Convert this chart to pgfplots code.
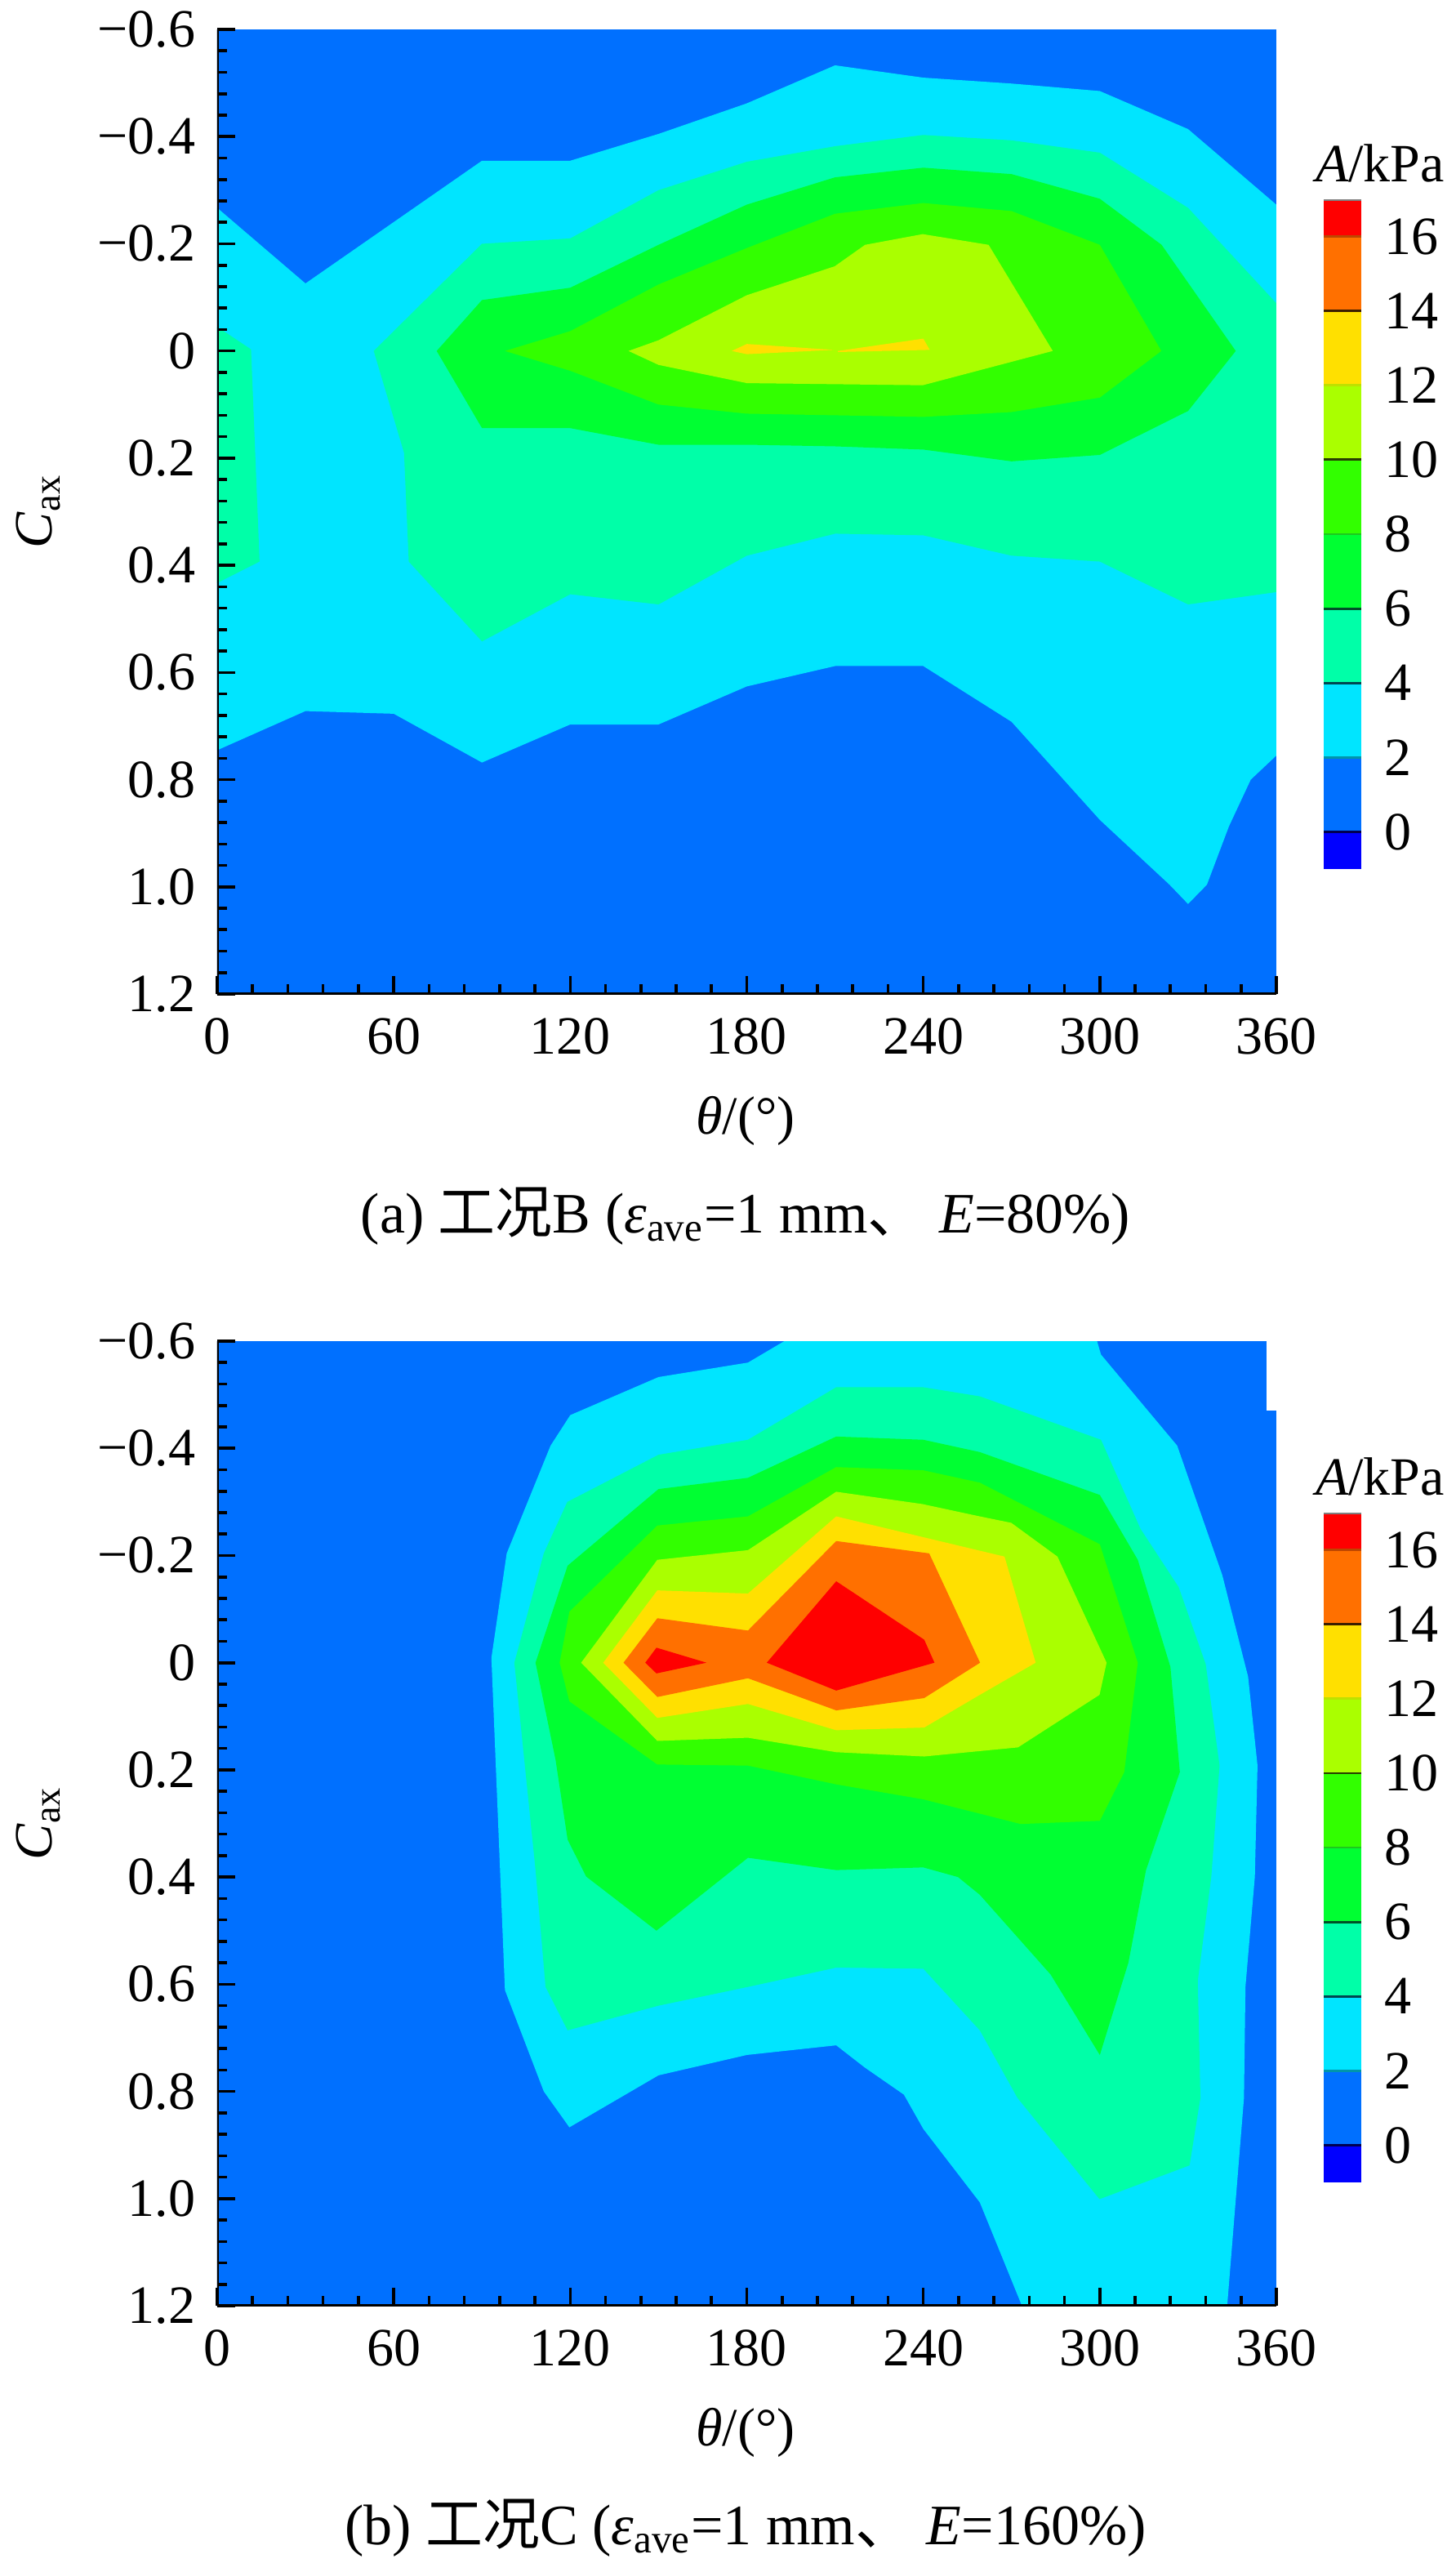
\documentclass[border=0pt]{standalone}
\usepackage{fontspec}
\setmainfont{Liberation Serif}
\newfontfamily\cjk{Noto Sans CJK SC}
\usepackage{pgfplots}
\pgfplotsset{compat=1.18}
\definecolor{cDB}{RGB}{0,0,255}
\definecolor{cB}{RGB}{0,112,255}
\definecolor{cC}{RGB}{0,229,255}
\definecolor{cAq}{RGB}{0,255,168}
\definecolor{cG1}{RGB}{0,255,50}
\definecolor{cG2}{RGB}{50,255,0}
\definecolor{cYG}{RGB}{170,255,0}
\definecolor{cY}{RGB}{255,224,0}
\definecolor{cO}{RGB}{255,112,0}
\definecolor{cR}{RGB}{255,0,0}
\definecolor{l16}{RGB}{190,70,0}
\definecolor{l14}{RGB}{60,30,0}
\definecolor{l12}{RGB}{190,225,0}
\definecolor{l10}{RGB}{40,60,0}
\definecolor{l8}{RGB}{30,200,30}
\definecolor{l6}{RGB}{0,80,40}
\definecolor{l4}{RGB}{0,70,80}
\definecolor{l2}{RGB}{0,150,170}
\definecolor{l0}{RGB}{0,0,80}
\newcommand\fs{\fontsize{16.5}{20}\selectfont}
\newcommand\fcap{\fontsize{17.5}{21}\selectfont}
\pgfplotsset{
  mainax/.style={
    anchor=north west, scale only axis, width=324.25pt, height=295.25pt,
    xmin=0, xmax=360, ymin=-0.6, ymax=1.2, y dir=reverse,
    xtick={0,60,120,180,240,300,360},
    xticklabels={0,60,120,180,240,300,360},
    ytick={-0.6,-0.4,-0.2,0,0.2,0.4,0.6,0.8,1.0,1.2},
    yticklabels={−0.6,−0.4,−0.2,0,0.2,0.4,0.6,0.8,1.0,1.2},
    minor x tick num=4, minor y tick num=4,
    tick align=inside, tick pos=left,
    major tick length=5.5pt, minor tick length=3pt,
    every tick/.style={black, line width=0.9pt},
    axis line style={draw=none},
    axis on top,
    xticklabel style={anchor=base, yshift=-18.25pt, inner sep=0pt, font=\fs},
    yticklabel style={anchor=east, xshift=-6.5pt, inner sep=0pt, font=\fs},
  },
  cbax/.style={
    anchor=north west, scale only axis, width=11.5pt, height=205pt,
    xmin=0, xmax=1, ymin=-1, ymax=17,
    axis line style={draw=none}, xtick=\empty,
    ytick={0,2,4,6,8,10,12,14,16},
    yticklabels={0,2,4,6,8,10,12,14,16},
    yticklabel pos=right, major tick length=0pt,
    yticklabel style={anchor=west, xshift=7pt, inner sep=0pt, font=\fs},
  },
  cbfill/.style={draw=none},
}
\newcommand\colorbarplots{%
  \addplot[cbfill,fill=cDB] coordinates {(0,-1)(1,-1)(1,0)(0,0)};
  \addplot[cbfill,fill=cB] coordinates {(0,0)(1,0)(1,2)(0,2)};
  \addplot[cbfill,fill=cC] coordinates {(0,2)(1,2)(1,4)(0,4)};
  \addplot[cbfill,fill=cAq] coordinates {(0,4)(1,4)(1,6)(0,6)};
  \addplot[cbfill,fill=cG1] coordinates {(0,6)(1,6)(1,8)(0,8)};
  \addplot[cbfill,fill=cG2] coordinates {(0,8)(1,8)(1,10)(0,10)};
  \addplot[cbfill,fill=cYG] coordinates {(0,10)(1,10)(1,12)(0,12)};
  \addplot[cbfill,fill=cY] coordinates {(0,12)(1,12)(1,14)(0,14)};
  \addplot[cbfill,fill=cO] coordinates {(0,14)(1,14)(1,16)(0,16)};
  \addplot[cbfill,fill=cR] coordinates {(0,16)(1,16)(1,17)(0,17)};
  \addplot[l0,line width=0.7pt] coordinates {(0,0)(1,0)};
  \addplot[l2,line width=0.7pt] coordinates {(0,2)(1,2)};
  \addplot[l4,line width=0.7pt] coordinates {(0,4)(1,4)};
  \addplot[l6,line width=0.7pt] coordinates {(0,6)(1,6)};
  \addplot[l8,line width=0.7pt] coordinates {(0,8)(1,8)};
  \addplot[l10,line width=0.7pt] coordinates {(0,10)(1,10)};
  \addplot[l12,line width=0.7pt] coordinates {(0,12)(1,12)};
  \addplot[l14,line width=0.7pt] coordinates {(0,14)(1,14)};
  \addplot[l16,line width=0.7pt] coordinates {(0,16)(1,16)};
  \addplot[gray,line width=0.9pt] coordinates {(0,17)(1,17)};
}
\begin{document}
\begin{tikzpicture}
\begin{scope}[x=0.25pt,y=-0.25pt]
\path[use as bounding box] (0,0) rectangle (1772,3149);
\end{scope}
% ---------------- (a) case B ----------------
\begin{axis}[mainax, at={(66.5pt,-9pt)}]
\addplot[draw=none,fill=cB] coordinates {(-5,-0.7)(365,-0.7)(365,1.3)(-5,1.3)};
\addplot[draw=none,fill=cC] coordinates {(-5,-0.267)(0,-0.267)(30,-0.126)(90,-0.355)(120,-0.355)(150,-0.405)(180,-0.462)(210,-0.533)(240,-0.51)(270,-0.499)(300,-0.485)(330,-0.414)(360,-0.273)(365,-0.273)(365,0.755)(360,0.755)(351.3,0.80)(343.9,0.887)(336.4,0.996)(330,1.032)(323.7,0.996)(300,0.875)(270,0.692)(240,0.588)(210,0.588)(180,0.626)(150,0.697)(120,0.697)(90,0.768)(60,0.677)(30,0.672)(0,0.745)(-5,0.745)};
\addplot[draw=none,fill=cAq] coordinates {(-5,-0.045)(0,-0.045)(11.5,-0.003)(14.4,0.393)(0,0.433)(-5,0.433)};
\addplot[draw=none,fill=cAq] coordinates {(53.2,0)(90,-0.2)(120,-0.21)(150,-0.30)(180,-0.353)(210,-0.382)(240,-0.403)(270,-0.393)(300,-0.37)(330,-0.267)(360,-0.089)(365,-0.089)(365,0.45)(360,0.45)(330,0.473)(300,0.393)(270,0.382)(240,0.344)(210,0.341)(180,0.382)(150,0.473)(120,0.454)(90,0.542)(65.1,0.393)(63.5,0.19)};
\addplot[draw=none,fill=cG1] coordinates {(74.6,0)(90,-0.095)(120,-0.118)(150,-0.198)(180,-0.273)(210,-0.324)(240,-0.342)(270,-0.33)(300,-0.284)(321,-0.198)(346.2,0)(330,0.112)(300,0.194)(270,0.206)(240,0.184)(210,0.178)(180,0.175)(150,0.175)(120,0.144)(90,0.144)};
\addplot[draw=none,fill=cG2] coordinates {(97.8,0)(120,-0.037)(150,-0.124)(180,-0.192)(210,-0.256)(240,-0.276)(270,-0.261)(300,-0.198)(320.9,0)(300,0.087)(270,0.114)(240,0.123)(210,0.12)(180,0.117)(150,0.10)(120,0.037)};
\addplot[draw=none,fill=cYG] coordinates {(139.8,0)(150,-0.02)(180,-0.104)(209.9,-0.158)(220.2,-0.198)(239.8,-0.218)(262.2,-0.198)(284,0)(239.8,0.064)(180,0.06)(150,0.026)};
\addplot[draw=none,fill=cY] coordinates {(174.9,0)(180,-0.013)(209.5,-0.002)(180,0.006)};
\addplot[draw=none,fill=cY] coordinates {(211,0)(240,-0.023)(242.2,-0.002)(211,0.002)};
\draw[black,line width=1.25pt] (axis cs:0,-0.6) -- (axis cs:0,1.2) -- (axis cs:360,1.2);
\end{axis}
\begin{axis}[cbax, at={(405.25pt,-61pt)}]
\colorbarplots
\end{axis}
% ---------------- (b) case C ----------------
\begin{axis}[mainax, at={(66.5pt,-410.5pt)}]
\addplot[draw=none,fill=cB] coordinates {(-5,-0.7)(365,-0.7)(365,1.3)(-5,1.3)};
\addplot[draw=none,fill=cC] coordinates {(93.2,-0.009)(98.4,-0.204)(113.3,-0.405)(120,-0.462)(150,-0.533)(180.4,-0.56)(198.9,-0.62)(298,-0.62)(300.4,-0.575)(326.3,-0.405)(341.6,-0.164)(350.4,0.026)(353.6,0.192)(352.7,0.399)(349.5,0.605)(349,0.812)(343,1.22)(275,1.22)(259.2,1.007)(240,0.87)(233.4,0.806)(220,0.755)(210.4,0.714)(180,0.732)(150,0.77)(119.7,0.867)(111,0.80)(97.8,0.611)};
\addplot[draw=none,fill=cAq] coordinates {(101,0)(111,-0.204)(119,-0.30)(150,-0.388)(180.4,-0.416)(210.4,-0.514)(240,-0.514)(259.2,-0.497)(300.4,-0.416)(313.8,-0.25)(326.8,-0.141)(336,0.003)(340.7,0.192)(337.9,0.399)(333.3,0.594)(334.2,0.812)(330.5,0.938)(299.9,1.001)(272,0.812)(259.2,0.686)(240,0.571)(210.4,0.569)(180.4,0.605)(150,0.64)(119.1,0.686)(111.6,0.605)(108.2,0.387)};
\addplot[draw=none,fill=cG1] coordinates {(108.2,0)(119.1,-0.181)(150,-0.324)(180.4,-0.345)(210.4,-0.422)(240,-0.416)(259.2,-0.393)(300,-0.313)(312.9,-0.192)(324,0.008)(327.2,0.204)(315.7,0.387)(309.7,0.56)(300,0.732)(283.3,0.582)(259.2,0.433)(251.8,0.40)(240,0.382)(210.4,0.387)(180.4,0.364)(149.3,0.50)(125.4,0.399)(119.1,0.33)(115,0.181)};
\addplot[draw=none,fill=cG2] coordinates {(116.4,0)(119.7,-0.095)(149.6,-0.256)(180.4,-0.273)(210.4,-0.365)(240,-0.359)(259.2,-0.336)(300,-0.221)(312.9,0)(308.3,0.204)(300,0.295)(273.1,0.301)(240,0.255)(210.4,0.227)(180.4,0.192)(149.6,0.19)(119.7,0.072)};
\addplot[draw=none,fill=cYG] coordinates {(123.7,0)(149.6,-0.192)(180.4,-0.21)(210.4,-0.319)(239.7,-0.296)(259.2,-0.273)(269.9,-0.261)(285.6,-0.198)(302.3,0)(299.9,0.06)(272.2,0.158)(240.3,0.175)(210.4,0.167)(180.4,0.14)(149.6,0.146)};
\addplot[draw=none,fill=cY] coordinates {(131.2,0)(149.6,-0.135)(180.4,-0.129)(210.4,-0.273)(267.6,-0.198)(278.2,0)(259.2,0.06)(240.3,0.121)(210.4,0.126)(180.4,0.077)(149.6,0.103)};
\addplot[draw=none,fill=cO] coordinates {(138.1,0)(149.6,-0.083)(180.4,-0.06)(210.4,-0.227)(242,-0.204)(259.3,0)(240.3,0.066)(210.4,0.089)(180.4,0.029)(149.6,0.064)};
\addplot[draw=none,fill=cR] coordinates {(186.8,0)(210.4,-0.152)(240.3,-0.043)(243.8,0)(210.4,0.052)};
\addplot[draw=none,fill=cR] coordinates {(145.5,0)(149.3,-0.028)(166.3,0)(149.3,0.02)};
\addplot[draw=none,fill=white] coordinates {(356.7,-0.7)(365,-0.7)(365,-0.471)(356.7,-0.471)};
\draw[black,line width=1.25pt] (axis cs:0,-0.6) -- (axis cs:0,1.2) -- (axis cs:360,1.2);
\end{axis}
\begin{axis}[cbax, at={(405.25pt,-463pt)}]
\colorbarplots
\end{axis}
% ---------------- labels ----------------
\begin{scope}[x=0.25pt,y=-0.25pt]
\node[font=\fs,rotate=90] at (47,626) {\textit{C}\textsubscript{ax}};
\node[font=\fs] at (913,1372) {\textit{θ}/(°)};
\node[font=\fcap] at (913,1489) {(a) {\cjk 工况}B (\textit{ε}\textsubscript{ave}=1 mm{\cjk 、} \textit{E}=80\%)};
\node[font=\fs] at (1690,200) {\textit{A}/kPa};
\node[font=\fs,rotate=90] at (47,2232) {\textit{C}\textsubscript{ax}};
\node[font=\fs] at (913,2978) {\textit{θ}/(°)};
\node[font=\fcap] at (913,3095) {(b) {\cjk 工况}C (\textit{ε}\textsubscript{ave}=1 mm{\cjk 、} \textit{E}=160\%)};
\node[font=\fs] at (1690,1808) {\textit{A}/kPa};
\end{scope}
\end{tikzpicture}
\end{document}
